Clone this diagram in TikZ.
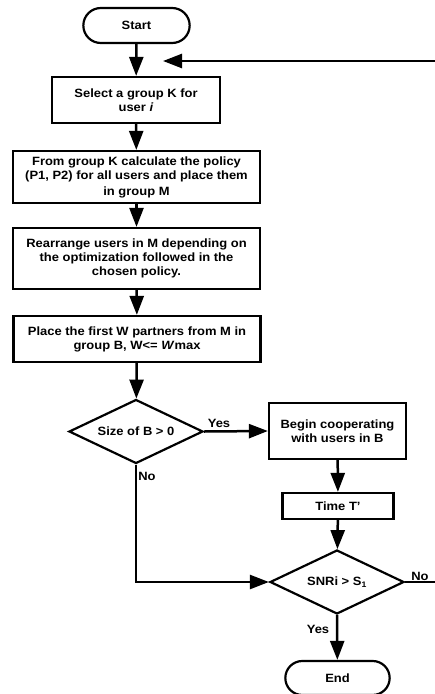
\documentclass[tikz,border=0pt]{standalone}
\usepackage{fontspec}
\setmainfont{Liberation Sans}[FakeStretch=1.08]
\usepackage{tikz}
\usetikzlibrary{positioning}
\usetikzlibrary{shapes.geometric,shapes.misc,arrows.meta}

\begin{document}
\begin{tikzpicture}[x=1pt,y=-1pt,
							font=\fontsize{12}{14}\selectfont\bfseries,
							termnode/.style={rounded rectangle, draw=black, line width=2.2pt, minimum width=113pt, minimum height=35pt},
							boxnode/.style={rectangle, draw=black, line width=2.2pt, align=center, inner sep=2pt},
							decnode/.style={diamond, aspect=2.1, draw=black, line width=2.2pt, minimum width=134pt, minimum height=64pt, inner sep=0pt},
							flow/.style={line width=2.5pt, -{Triangle[length=19pt,width=14pt]}},
							]
							\useasboundingbox (0,0) rectangle (435,694);
							%Nodes
							\node[termnode]                                          (start) at (136.5,25.5)  {Start};
							\node[boxnode, minimum width=168pt, minimum height=46pt] (sel)   at (136,100)     {Select a group K for\\user \textit{i}};
							\node[boxnode, minimum width=247pt, minimum height=52pt] (pol)   at (136.5,177)   {From group K calculate the policy\\(P1, P2) for all users and place them\\[2pt]in group M};
							\node[boxnode, minimum width=247pt, minimum height=61pt] (rear)  at (136.5,258.5) {Rearrange users in M depending on\\the optimization followed in the\\chosen policy.};
							\node[boxnode, minimum width=247pt, minimum height=46pt] (place) at (137,339)     {Place the first W partners from M in\\group B, W<= \textit{W}max};
							\node[decnode]                                           (size)  at (136,431.5)   {Size of B > 0};
							\node[boxnode, minimum width=137pt, minimum height=56pt] (coop)  at (337.5,431)   {Begin cooperating\\with users in B};
							\node[boxnode, minimum width=111pt, minimum height=26pt] (time)  at (338,506)     {Time T’};
							\node[decnode]                                           (snr)   at (337,582)     {SNRi > S\textsubscript{1}};
							\node[termnode, minimum width=111pt, minimum height=34pt] (end)  at (337.5,678)   {End};
							\coordinate (back) at (163,61);
							\coordinate (edge) at (435,61);
							\coordinate (out)  at (435,582);

							%Connectors
							\draw[flow] (start) -- (sel);
							\draw[flow] (edge) -- (back);
							\draw[flow] (sel) -- (pol);
							\draw[flow] (pol) -- (rear);
							\draw[flow] (rear) -- (place);
							\draw[flow] (place) -- (size);
							\draw[flow] (size.east) -- (coop.west);
							\node (yes1) at (219,423) {Yes};
							\draw[flow] (coop) -- (time);
							\draw[flow] (time) -- (snr);
							\draw[flow] (size.south) |- (snr.west);
							\node (no1) at (147,476) {No};
							\draw[line width=2.5pt] (snr.east) -- (out);
							\node (no2) at (420,576) {No};
							\draw[flow] (snr.south) -- (end);
							\node (yes2) at (318,629) {Yes};
\end{tikzpicture}
\end{document}
